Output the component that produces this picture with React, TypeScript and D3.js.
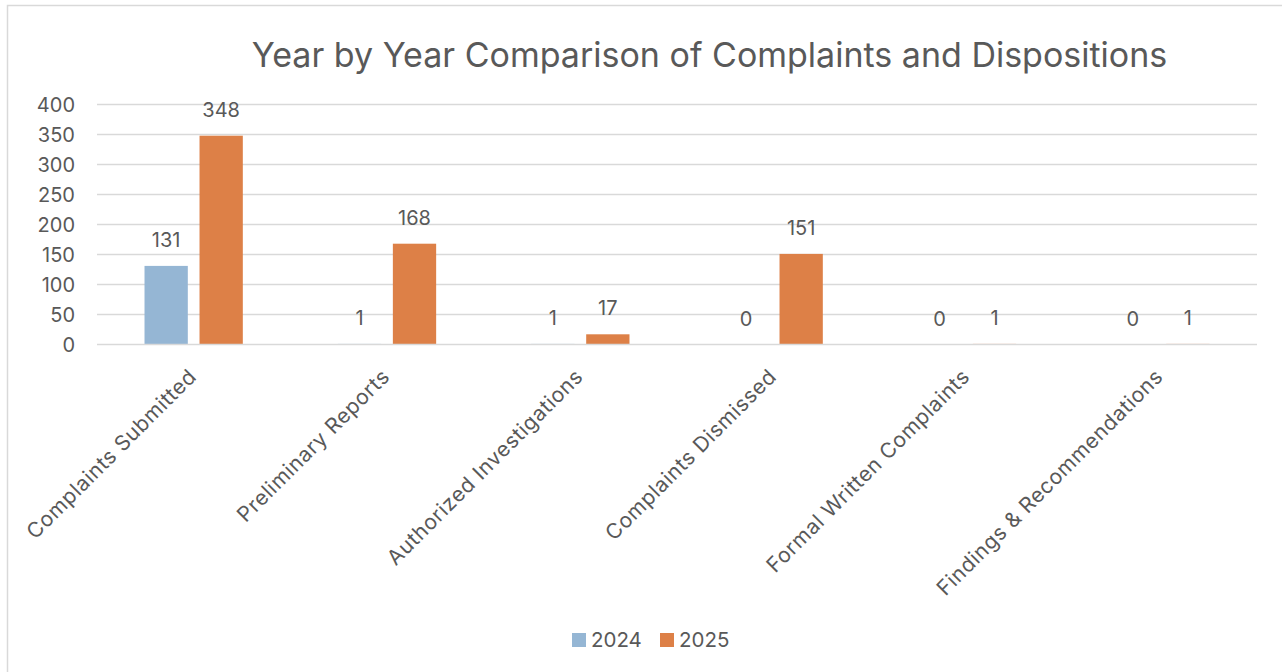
import React from 'react';
import * as d3 from 'd3';

const categories = [
  'Complaints Submitted',
  'Preliminary Reports',
  'Authorized Investigations',
  'Complaints Dismissed',
  'Formal Written Complaints',
  'Findings & Recommendations',
];
const series = ['2024', '2025'];
const values2024 = [131, 1, 1, 0, 0, 0];
const values2025 = [348, 168, 17, 151, 1, 1];
const yTicks = [0, 50, 100, 150, 200, 250, 300, 350, 400];
const colors = ['#95b6d4', '#dd8047'];

const W = 1282;
const H = 672;
const FONT = 'Inter, "Open Sans", sans-serif';
const TEXT = '#595959';
const GRID = '#d9d9d9';

const App: React.FC = () => {
  const left = 97;
  const right = 1257;
  const top = 104.5;
  const bottom = 344.5;

  const x0 = d3.scaleBand<string>().domain(categories).range([left, right]);
  const bw = x0.bandwidth();
  const groupW = 98.3;
  const x1 = d3
    .scaleBand<string>()
    .domain(series)
    .range([(bw - groupW) / 2, (bw + groupW) / 2])
    .paddingInner(0.213);
  const y = d3.scaleLinear().domain([0, 400]).range([bottom, top]);

  const data = [values2024, values2025];

  return (
    <svg
      width={W}
      height={H}
      viewBox={`0 0 ${W} ${H}`}
      style={{ position: 'absolute', left: 0, top: 0, background: '#fff' }}
      fontFamily={FONT}
    >
      <rect x={7.5} y={5.5} width={1300} height={700} fill="#fff" stroke={GRID} strokeWidth={1.5} />

      <text x={709.5} y={67} textAnchor="middle" fontSize={34} fill={TEXT}>
        Year by Year Comparison of Complaints and Dispositions
      </text>

      {/* gridlines + y ticks */}
      <g>
        {yTicks.map(t => (
          <g key={t}>
            {t > 0 && <line x1={left} x2={right} y1={y(t)} y2={y(t)} stroke={GRID} strokeWidth={1.5} />}
            <text x={75} y={y(t)} dy="0.35em" textAnchor="end" fontSize={20} fill={TEXT}>
              {t}
            </text>
          </g>
        ))}
      </g>

      {/* bars */}
      {data.map((vals, si) => (
        <g key={series[si]}>
          {vals.map((v, ci) => {
            const bx = (x0(categories[ci]) as number) + (x1(series[si]) as number);
            return (
              <rect
                key={ci}
                x={bx}
                y={y(v)}
                width={x1.bandwidth()}
                height={bottom - y(v)}
                fill={colors[si]}
              />
            );
          })}
        </g>
      ))}

      {/* category axis line */}
      <line x1={left} x2={right} y1={y(0)} y2={y(0)} stroke={GRID} strokeWidth={1.6} />

      {/* data labels */}
      {data.map((vals, si) => (
        <g key={'lbl' + series[si]}>
          {vals.map((v, ci) => {
            const cx = (x0(categories[ci]) as number) + (x1(series[si]) as number) + x1.bandwidth() / 2;
            return (
              <text key={ci} x={cx} y={y(v) - 19} textAnchor="middle" fontSize={20} fill={TEXT}>
                {v}
              </text>
            );
          })}
        </g>
      ))}

      {/* category labels */}
      {categories.map(c => {
        const cx = (x0(c) as number) + bw / 2 + 4;
        const cy = 378;
        return (
          <text
            key={c}
            x={cx}
            y={cy}
            textAnchor="end"
            fontSize={21}
            letterSpacing={0.6}
            fill={TEXT}
            transform={`rotate(-45 ${cx} ${cy})`}
          >
            {c}
          </text>
        );
      })}

      {/* legend */}
      {series.map((s, i) => {
        const lx = 572 + i * 88;
        return (
          <g key={s}>
            <rect x={lx} y={633} width={14} height={14} fill={colors[i]} />
            <text x={lx + 19} y={647} fontSize={20.5} fill={TEXT}>
              {s}
            </text>
          </g>
        );
      })}
    </svg>
  );
};

export default App;
